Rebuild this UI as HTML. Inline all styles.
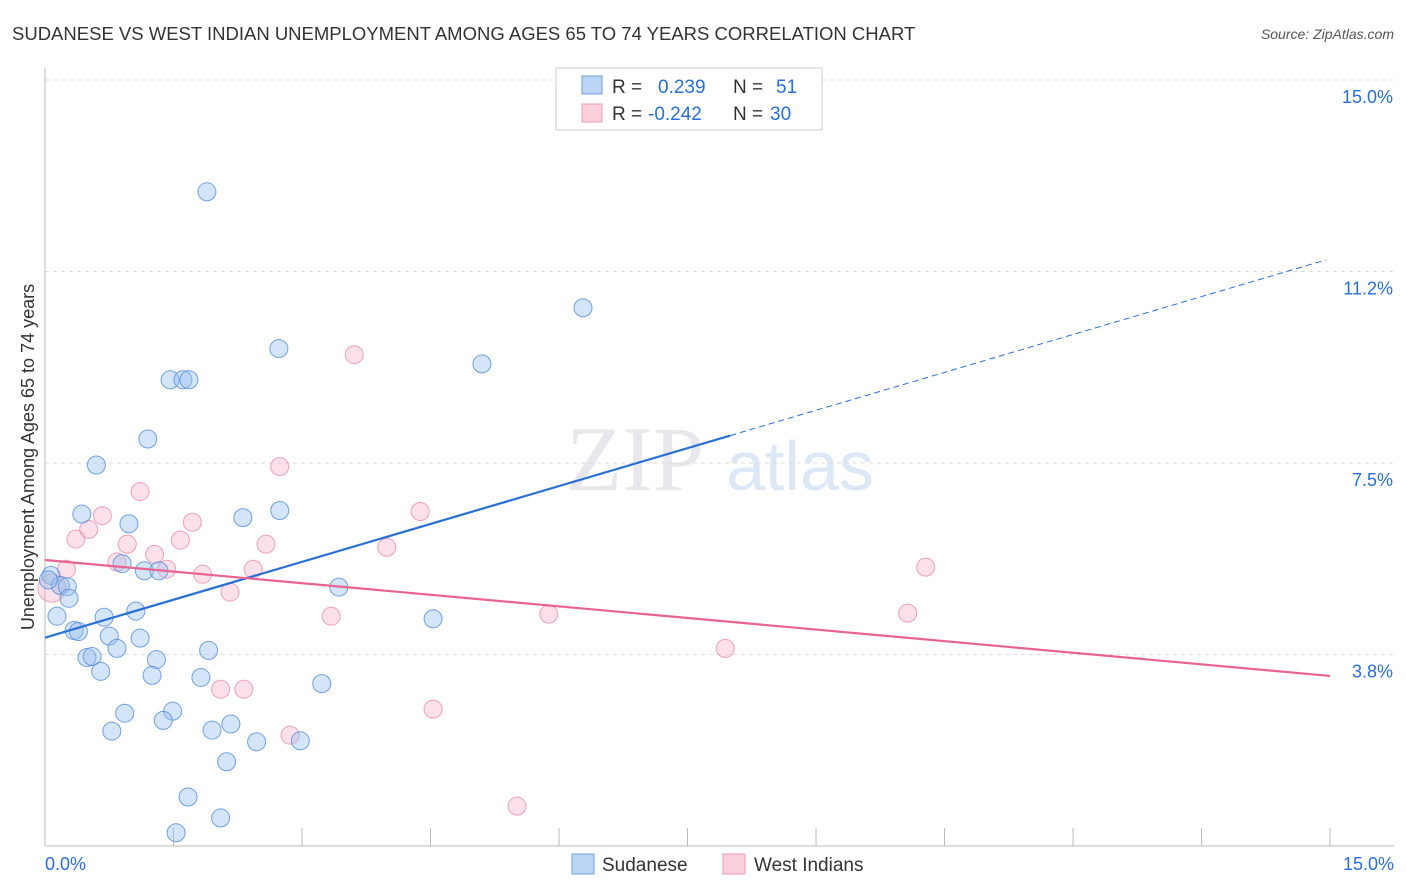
<!DOCTYPE html>
<html><head><meta charset="utf-8"><style>
body{margin:0;background:#fff;font-family:"Liberation Sans",sans-serif}
svg{display:block}
</style></head><body>
<svg id="c" width="1406" height="892">
<text x="12" y="40" font-size="18.5" fill="#333">SUDANESE VS WEST INDIAN UNEMPLOYMENT AMONG AGES 65 TO 74 YEARS CORRELATION CHART</text>
<text x="1394" y="39" font-size="14" fill="#555" font-style="italic" text-anchor="end">Source: ZipAtlas.com</text>
<text x="635" y="490" font-size="92" fill="#e8e8ec" font-family="Liberation Serif" text-anchor="middle">ZIP</text>
<text x="800" y="490" font-size="70" fill="#dce8f6" text-anchor="middle">atlas</text>
<text transform="translate(34,457) rotate(-90)" font-size="18" fill="#333" text-anchor="middle">Unemployment Among Ages 65 to 74 years</text>
<g id="grid"></g><g id="marks"></g>
<g>
<rect x="556" y="68" width="266" height="62" fill="#fff" stroke="#ccc"/>
<rect x="582" y="76" width="20" height="18" fill="#bcd5f5" stroke="#6fa0e0"/>
<rect x="582" y="104" width="20" height="18" fill="#fbd0dc" stroke="#f09ab4"/>
<text x="612" y="93" font-size="19" fill="#333">R = <tspan fill="#2a6fd6" x="658">0.239</tspan><tspan x="733" fill="#333">N = </tspan><tspan x="776" fill="#2a6fd6">51</tspan></text>
<text x="612" y="120" font-size="19" fill="#333">R = <tspan fill="#2a6fd6" x="648">-0.242</tspan><tspan x="733" fill="#333">N = </tspan><tspan x="770" fill="#2a6fd6">30</tspan></text>
</g>
<g>
<rect x="572" y="854" width="22" height="20" fill="#bcd5f5" stroke="#6fa0e0"/>
<text x="602" y="871" font-size="19" fill="#333">Sudanese</text>
<rect x="723" y="854" width="22" height="20" fill="#fbd0dc" stroke="#f09ab4"/>
<text x="754" y="871" font-size="19" fill="#333">West Indians</text>
</g>
</svg>
<script>
const xTicks=[0,1.5,3,4.5,6,7.5,9,10.5,12,13.5,15];
const yTicks=[3.75,7.5,11.25,15];
const yTickLabels=["3.8%","7.5%","11.2%","15.0%"];
const blueX=[1.89,6.28,2.73,5.10,1.46,1.61,1.68,1.2,0.6,0.43,0.98,2.31,2.74,0.90,1.16,1.33,0.07,0.18,0.26,0.28,0.14,0.69,1.06,3.43,4.53,0.34,0.39,0.75,1.11,0.84,1.91,0.49,0.55,1.30,0.65,1.25,1.82,3.23,0.93,1.49,1.38,0.78,1.95,2.17,2.47,2.98,2.12,1.67,2.05,1.53,0.04];
const blueY=[12.81,10.54,9.74,9.44,9.13,9.13,9.13,7.97,7.46,6.50,6.31,6.43,6.57,5.53,5.39,5.39,5.30,5.10,5.08,4.85,4.50,4.48,4.60,5.07,4.45,4.22,4.20,4.11,4.07,3.87,3.83,3.69,3.71,3.65,3.42,3.34,3.30,3.18,2.60,2.64,2.46,2.25,2.27,2.39,2.04,2.06,1.65,0.96,0.55,0.26,5.21];
const pinkX=[3.61,2.74,1.11,4.38,0.67,0.51,1.72,3.99,0.36,0.96,1.58,2.58,1.28,0.84,1.42,0.25,1.84,2.43,2.16,0.08,3.34,5.88,10.07,10.28,7.94,2.05,2.32,4.53,2.86,5.51];
const pinkY=[9.62,7.43,6.94,6.55,6.47,6.20,6.34,5.85,6.01,5.91,5.99,5.91,5.71,5.56,5.42,5.42,5.32,5.42,4.97,5.05,4.50,4.54,4.56,5.46,3.87,3.07,3.07,2.68,2.17,0.78];
const pinkR=[9,9,9,9,9,9,9,9,9,9,9,9,9,9,9,9,9,9,9,14,9,9,9,9,9,9,9,9,9,9];
const blueTrend=[4.08,11.5]; const pinkTrend=[5.6,3.33];
const X=v=>45+v*85.67, Y=v=>846-v*51.07;
const NS='http://www.w3.org/2000/svg';
function mk(t,a,p){const e=document.createElementNS(NS,t);for(const k in a)e.setAttribute(k,a[k]);p.appendChild(e);return e;}
const g=document.getElementById('grid'), m=document.getElementById('marks');
yTicks.forEach((v,i)=>{
 const l=mk('line',{x1:45,x2:1394,y1:Y(v),y2:Y(v),stroke:'#ddd','stroke-dasharray':'4,4'},g);
 
 
 const t=mk('text',{x:1393,y:Y(v)+23,'font-size':18,fill:'#2a6fd6','text-anchor':'end'},g);t.textContent=yTickLabels[i];
 
 
});
mk('line',{x1:45,x2:45,y1:68,y2:846,stroke:'#bbb'},g);
mk('line',{x1:45,x2:1394,y1:846,y2:846,stroke:'#bbb'},g);
xTicks.forEach(v=>{const l=mk('line',{x1:X(v),x2:X(v),y1:828,y2:846,stroke:'#bbb'},g);
 
 });
let t0=mk('text',{x:45,y:870,'font-size':18,fill:'#2a6fd6'},g);t0.textContent='0.0%';


let t1=mk('text',{x:1394,y:870,'font-size':18,fill:'#2a6fd6','text-anchor':'end'},g);t1.textContent='15.0%';


pinkX.forEach((x,i)=>{const c=mk('circle',{cx:X(x),cy:Y(pinkY[i]),r:pinkR[i],fill:'rgba(246,170,195,0.35)',stroke:'rgba(235,140,170,0.8)','stroke-width':1},m);
 
 });
blueX.forEach((x,i)=>{const c=mk('circle',{cx:X(x),cy:Y(blueY[i]),r:9,fill:'rgba(150,190,240,0.4)',stroke:'rgba(80,140,220,0.8)','stroke-width':1},m);
 
 });
const bAt=x=>blueTrend[0]+(blueTrend[1]-blueTrend[0])*x/15;
let bl=mk('line',{x1:X(0),y1:Y(bAt(0)),x2:X(8),y2:Y(bAt(8)),stroke:'#2a6fd6','stroke-width':2.2},m);


let bd=mk('line',{x1:X(8),y1:Y(bAt(8)),x2:X(14.95),y2:Y(bAt(14.95)),stroke:'#2a6fd6','stroke-width':1,'stroke-dasharray':'6,4'},m);


let pl=mk('line',{x1:X(0),y1:Y(pinkTrend[0]),x2:X(15),y2:Y(pinkTrend[1]),stroke:'#e8638f','stroke-width':2.2},m);


</script>
</body></html>
